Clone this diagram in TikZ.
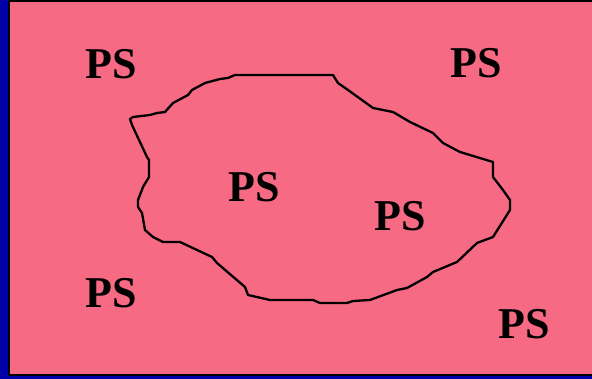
\documentclass[tikz,border=0pt]{standalone}
\usepackage{fontspec}
\setmainfont{Liberation Serif}[BoldFont={Liberation Serif Bold}]
\definecolor{pinkbg}{RGB}{247,106,132}
\definecolor{bandblue}{RGB}{0,0,168}
\tikzset{lbl/.style={font=\fontsize{44}{44}\selectfont\bfseries, inner sep=0pt}}
\begin{document}
\begin{tikzpicture}[x=1pt,y=-1pt]
\useasboundingbox (0,0) rectangle (592,379);
\fill[bandblue] (0,0) rectangle (592,379);
\fill[pinkbg] (8,0) rectangle (592,376);
\draw[line width=2pt] (9,1) -- (593,1);
\draw[line width=2pt] (9,0) -- (9,375) -- (593,375);
\draw[line width=2.3pt, line join=round]
 (235,75) -- (333,75) -- (338,83) -- (348,90) -- (373,108) -- (393,112) -- (410,122)
 -- (433,133) -- (443,143) -- (460,152) -- (493,162) -- (493,177) -- (503,190)
 -- (510,200) -- (510,210) -- (493,237) -- (477,243) -- (457,262) -- (433,272)
 -- (427,277) -- (407,288) -- (397,290) -- (370,300) -- (353,301) -- (347,303)
 -- (320,303) -- (313,300) -- (270,300) -- (248,295) -- (245,287) -- (217,263)
 -- (212,257) -- (180,242) -- (163,242) -- (153,237) -- (145,230) -- (142,213)
 -- (138,207) -- (138,200) -- (143,187) -- (149,177) -- (149,160) -- (147,157)
 -- (132,125) -- (130,119) -- (133,117) -- (150,115) -- (157,113) -- (165,112)
 -- (173,103) -- (188,95) -- (192,90) -- (205,83) -- (220,79) -- (228,78) -- cycle;
\node[lbl] (tl) at (111,64) {PS};
\node[lbl] (tr) at (476,63) {PS};
\node[lbl] (m1) at (254,187) {PS};
\node[lbl] (m2) at (400,216) {PS};
\node[lbl] (bl) at (111,293) {PS};
\node[lbl] (br) at (524,324) {PS};
\end{tikzpicture}
\end{document}
